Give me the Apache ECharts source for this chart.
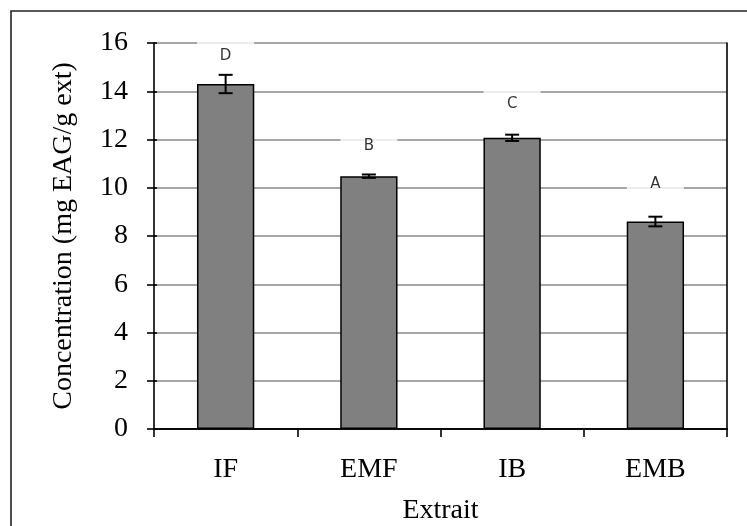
<!DOCTYPE html>
<html>
<head>
<meta charset="utf-8">
<script src="https://cdn.jsdelivr.net/npm/echarts@6/dist/echarts.min.js"></script>
<style>html,body{margin:0;padding:0;background:#fff;}#c{width:747px;height:526px;}</style>
</head>
<body>
<div id="c"></div>
<script>
var categories = ['IF', 'EMF', 'IB', 'EMB'];
var means = [14.3, 10.48, 12.07, 8.6];
var errors = [0.38, 0.07, 0.13, 0.2];
var letters = ['D', 'B', 'C', 'A'];
var letterPos = [15.45, 11.72, 13.45, 10.15];
var yTicks = [0, 2, 4, 6, 8, 10, 12, 14, 16];

var chart = echarts.init(document.getElementById('c'), null, {renderer: 'canvas'});
var serif = '"Liberation Serif", "Times New Roman", serif';

var errData = means.map(function (m, i) { return [i, m - errors[i], m + errors[i]]; });
var letterData = letters.map(function (l, i) { return [i, letterPos[i], l]; });

var option = {
  animation: false,
  backgroundColor: '#fff',
  graphic: [{
    type: 'rect', silent: true, z: -10,
    shape: {x: 11, y: 11, width: 760, height: 540},
    style: {fill: 'none', stroke: '#222', lineWidth: 1.6}
  }],
  grid: {left: 154, right: 20, top: 43, bottom: 97, containLabel: false, outerBoundsMode: 'none'},
  xAxis: [{
    type: 'category', data: categories, position: 'bottom',
    name: 'Extrait', nameLocation: 'middle', nameGap: 68,
    nameTextStyle: {fontFamily: serif, fontSize: 28, color: '#000'},
    axisLine: {lineStyle: {color: '#000', width: 1.6}},
    axisTick: {show: true, length: 8, lineStyle: {color: '#000', width: 1.6}},
    axisLabel: {fontFamily: serif, fontSize: 28, color: '#000', margin: 27},
    splitLine: {show: false}
  }, {
    type: 'category', data: categories, position: 'top',
    axisLine: {lineStyle: {color: '#000', width: 1.6}},
    axisTick: {show: false}, axisLabel: {show: false}
  }],
  yAxis: [{
    type: 'value', min: 0, max: 16, interval: 2, position: 'left',
    name: 'Concentration (mg EAG/g ext)', nameLocation: 'middle', nameGap: 76,
    nameTextStyle: {fontFamily: serif, fontSize: 28, color: '#000'},
    axisLine: {show: true, lineStyle: {color: '#000', width: 1.6}},
    axisTick: {show: true, length: 7, lineStyle: {color: '#000', width: 1.6}},
    axisLabel: {fontFamily: serif, fontSize: 28, color: '#000', margin: 26,
      formatter: function (v) { return yTicks.indexOf(v) >= 0 ? String(v) : ''; }},
    splitLine: {show: true, lineStyle: {color: '#a6a6a6', width: 2}}
  }, {
    type: 'value', min: 0, max: 16, interval: 2, position: 'left',
    axisLine: {show: false},
    axisTick: {show: true, inside: true, length: 3, lineStyle: {color: '#000', width: 1.6}},
    axisLabel: {show: false}, splitLine: {show: false}
  }, {
    type: 'value', min: 0, max: 16, interval: 2, position: 'right',
    axisLine: {show: true, lineStyle: {color: '#000', width: 1.6}},
    axisTick: {show: false}, axisLabel: {show: false}, splitLine: {show: false}
  }],
  series: [{
    type: 'bar', data: means, barWidth: '40%',
    itemStyle: {color: '#808080', borderColor: '#000', borderWidth: 1.5},
    emphasis: {disabled: true}, silent: true, z: 2
  }, {
    type: 'custom', data: errData, silent: true, z: 5,
    renderItem: function (params, api) {
      var lo = api.coord([api.value(0), api.value(1)]);
      var hi = api.coord([api.value(0), api.value(2)]);
      var w = 7;
      var st = {stroke: '#000', lineWidth: 2};
      return {type: 'group', children: [
        {type: 'line', shape: {x1: lo[0], y1: lo[1], x2: hi[0], y2: hi[1]}, style: st},
        {type: 'line', shape: {x1: hi[0] - w, y1: hi[1], x2: hi[0] + w, y2: hi[1]}, style: st},
        {type: 'line', shape: {x1: lo[0] - w, y1: lo[1], x2: lo[0] + w, y2: lo[1]}, style: st}
      ]};
    }
  }, {
    type: 'scatter', data: letterData, symbolSize: 1, silent: true, z: 4,
    itemStyle: {color: 'rgba(0,0,0,0)'},
    label: {
      show: true, position: 'inside',
      formatter: function (p) { return p.data[2]; },
      fontFamily: '"DejaVu Sans", sans-serif', fontSize: 15, color: '#000',
      backgroundColor: '#fff', width: 57, height: 36, lineHeight: 36, align: 'center'
    }
  }]
};
chart.setOption(option);
</script>
</body>
</html>
